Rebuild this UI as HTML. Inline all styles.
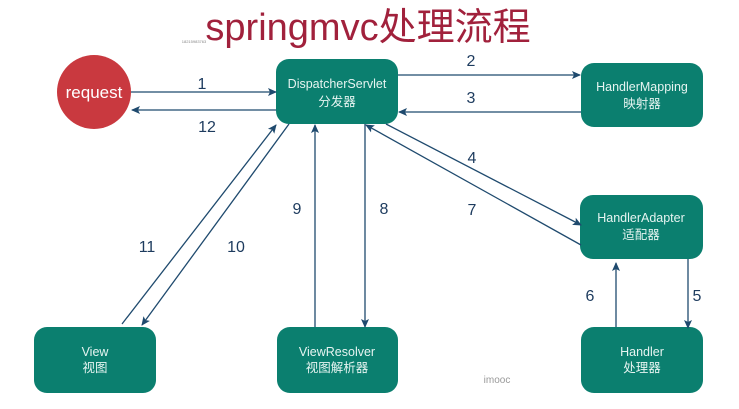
<!DOCTYPE html>
<html><head><meta charset="utf-8"><style>
html,body{margin:0;padding:0;background:#fff;width:739px;height:409px;overflow:hidden}
svg{display:block}
.b{fill:#0b7f6f}
.t{font-family:"Liberation Sans","Noto Sans CJK SC",sans-serif;fill:#e6f4f1;font-size:12.5px;text-anchor:middle}
.n{font-family:"Liberation Sans",sans-serif;fill:#1d3b5e;font-size:16px;text-anchor:middle}
.l{stroke:#1f4a6e;stroke-width:1.3;fill:none}
</style></head><body>
<svg width="739" height="409" viewBox="0 0 739 409">
<defs><marker id="a" markerWidth="10" markerHeight="10" refX="8" refY="5" orient="auto" markerUnits="userSpaceOnUse"><path d="M0,1 L9,5 L0,9 L2,5 Z" fill="#1f4a6e"/></marker></defs>
<text x="368" y="40" text-anchor="middle" font-family="Liberation Sans,Noto Sans CJK SC,sans-serif" font-size="38" fill="#a1213c">springmvc处理流程</text>
<text x="194" y="43" text-anchor="middle" font-family="Liberation Sans,sans-serif" font-size="4" fill="#888">18215983763</text>
<circle cx="94" cy="92" r="37" fill="#c9393f"/>
<text x="94" y="98" text-anchor="middle" font-family="Liberation Sans,sans-serif" font-size="17" fill="#fff">request</text>
<rect class="b" x="276" y="59" width="122" height="65" rx="13"/>
<text class="t" x="337" y="88">DispatcherServlet</text><text class="t" x="337" y="106">分发器</text>
<rect class="b" x="581" y="63" width="122" height="64" rx="13"/>
<text class="t" x="642" y="91">HandlerMapping</text><text class="t" x="642" y="108">映射器</text>
<rect class="b" x="580" y="195" width="123" height="64" rx="13"/>
<text class="t" x="641" y="222">HandlerAdapter</text><text class="t" x="641" y="239">适配器</text>
<rect class="b" x="34" y="327" width="122" height="66" rx="13"/>
<text class="t" x="95" y="356">View</text><text class="t" x="95" y="372">视图</text>
<rect class="b" x="277" y="327" width="121" height="66" rx="13"/>
<text class="t" x="337" y="356">ViewResolver</text><text class="t" x="337" y="372">视图解析器</text>
<rect class="b" x="581" y="327" width="122" height="66" rx="13"/>
<text class="t" x="642" y="356">Handler</text><text class="t" x="642" y="372">处理器</text>
<line class="l" x1="131" y1="92" x2="276" y2="92" marker-end="url(#a)"/>
<line class="l" x1="276" y1="110" x2="132" y2="110" marker-end="url(#a)"/>
<line class="l" x1="398" y1="75" x2="580" y2="75" marker-end="url(#a)"/>
<line class="l" x1="581" y1="112" x2="399" y2="112" marker-end="url(#a)"/>
<line class="l" x1="386" y1="124" x2="581" y2="225" marker-end="url(#a)"/>
<line class="l" x1="581" y1="245" x2="366" y2="125" marker-end="url(#a)"/>
<line class="l" x1="122" y1="324" x2="276" y2="125" marker-end="url(#a)"/>
<line class="l" x1="289" y1="124" x2="142" y2="325" marker-end="url(#a)"/>
<line class="l" x1="315" y1="327" x2="315" y2="125" marker-end="url(#a)"/>
<line class="l" x1="365" y1="124" x2="365" y2="327" marker-end="url(#a)"/>
<line class="l" x1="616" y1="327" x2="616" y2="263" marker-end="url(#a)"/>
<line class="l" x1="688" y1="259" x2="688" y2="328" marker-end="url(#a)"/>
<text class="n" x="202" y="89">1</text>
<text class="n" x="207" y="132">12</text>
<text class="n" x="471" y="66">2</text>
<text class="n" x="471" y="103">3</text>
<text class="n" x="472" y="163">4</text>
<text class="n" x="472" y="215">7</text>
<text class="n" x="147" y="252">11</text>
<text class="n" x="236" y="252">10</text>
<text class="n" x="297" y="214">9</text>
<text class="n" x="384" y="214">8</text>
<text class="n" x="590" y="301">6</text>
<text class="n" x="697" y="301">5</text>
<text x="497" y="383" text-anchor="middle" font-family="Liberation Sans,sans-serif" font-size="10" fill="#999">imooc</text>
</svg>
</body></html>
